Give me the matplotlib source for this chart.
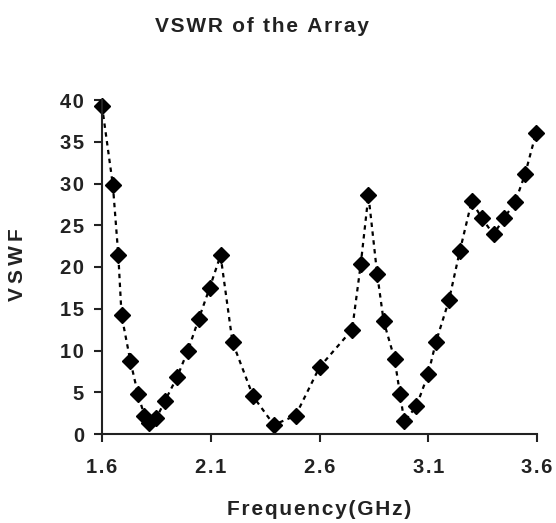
import matplotlib
matplotlib.use('Agg')
from matplotlib import pyplot as plt

# frequency (GHz) and VSWR
freq = [1.60, 1.65, 1.675, 1.69, 1.73, 1.765, 1.795, 1.815, 1.85, 1.89,
        1.945, 1.995, 2.045, 2.095, 2.145, 2.20, 2.295, 2.39, 2.49, 2.60,
        2.75, 2.79, 2.825, 2.865, 2.895, 2.945, 2.97, 2.99, 3.045, 3.10,
        3.135, 3.195, 3.245, 3.30, 3.345, 3.40, 3.45, 3.50, 3.545, 3.595]
vswr = [39.3, 29.8, 21.4, 14.2, 8.8, 4.8, 2.2, 1.3, 1.9, 4.0,
        6.8, 10.0, 13.8, 17.5, 21.4, 11.0, 4.5, 1.1, 2.2, 8.0,
        12.5, 20.4, 28.6, 19.2, 13.5, 9.0, 4.8, 1.5, 3.3, 7.2,
        11.0, 16.0, 21.9, 27.9, 25.9, 23.9, 25.9, 27.8, 31.1, 36.0]

xticks = [1.6, 2.1, 2.6, 3.1, 3.6]
yticks = [0, 5, 10, 15, 20, 25, 30, 35, 40]

TEXT = '#222222'
plt.rcParams['font.family'] = ['Liberation Sans', 'DejaVu Sans']


def spaced(s, sep='\u200a'):
    # the original text is set with wide letter spacing
    return sep.join(s)


fig = plt.figure(figsize=(5.56, 5.23), dpi=100)
ax = fig.add_axes([102 / 556, 1 - 434 / 523, 435 / 556, 334 / 523])

ax.plot(freq, vswr, color='black', linestyle=(0, (2, 2)), linewidth=1.6,
        marker='D', markersize=8, markerfacecolor='black',
        markeredgecolor='black', clip_on=False)

ax.set_xlim(1.6, 3.6)
ax.set_ylim(0, 40)
ax.set_xticks(xticks)
ax.set_yticks(yticks)
ax.set_xticklabels([spaced(f"{t:.1f}") for t in xticks],
                   fontsize=14.5, fontweight='bold')
ax.set_yticklabels([spaced(str(t)) for t in yticks],
                   fontsize=14.5, fontweight='bold')

for side in ['top', 'right']:
    ax.spines[side].set_visible(False)
for side in ['left', 'bottom']:
    ax.spines[side].set_linewidth(1.5)
    ax.spines[side].set_color(TEXT)

ax.tick_params(axis='both', direction='out', length=6, width=1.5,
               colors=TEXT)
ax.tick_params(axis='y', pad=7)
ax.tick_params(axis='x', pad=11)

ax.set_xlabel(spaced('Frequency(GHz)'), fontsize=15, fontweight='bold',
              color=TEXT)
ax.xaxis.set_label_coords((319 - 102) / 435, -(500 - 434) / 334)
ax.set_ylabel(spaced('VSWF', '\u2009'), fontsize=15, fontweight='bold',
              color=TEXT)
# anchor is the right-hand edge of the rotated label
ax.yaxis.set_label_coords(-(102 - 27) / 435, (434 - 265) / 334)

fig.text(262 / 556, 1 - 27 / 523, spaced('VSWR of the Array'),
         ha='center', va='center', fontsize=15, fontweight='bold',
         color=TEXT)

fig.savefig('out.png', dpi=100)
